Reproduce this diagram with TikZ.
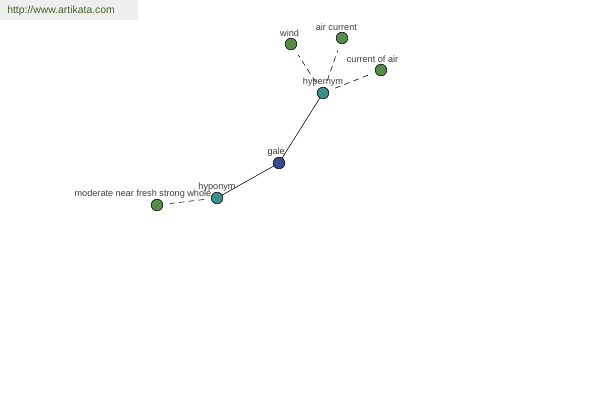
\documentclass[tikz,border=0pt]{standalone}
\usepackage{fontspec}
\setmainfont{Liberation Sans}
\usetikzlibrary{positioning}
\definecolor{Leaf}{RGB}{84, 140, 72}
\definecolor{Relation}{RGB}{62, 140, 140}
\definecolor{Root}{RGB}{60, 72, 140}
\definecolor{Banner}{RGB}{238, 238, 238}
\definecolor{BannerInk}{RGB}{70, 100, 40}
\definecolor{Ink}{RGB}{60, 60, 60}

\begin{document}
\begin{tikzpicture}[x=0.025cm, y=-0.025cm,
    dot/.style={circle, draw=black, line width=0.4pt, minimum size=0.29cm, inner sep=0pt},
    lbl/.style={font=\fontsize{6.5}{7.5}\selectfont, text=Ink, inner sep=0pt},
    solidlink/.style={line width=0.4pt, black},
    dashlink/.style={line width=0.4pt, black, dashed, dash pattern=on 4pt off 3pt, shorten >=5pt, shorten <=5pt},
]
\useasboundingbox (0,0) rectangle (600,400);
\fill[Banner] (0,0) rectangle (138,20);
\node[font=\fontsize{7.4}{8.5}\selectfont, text=BannerInk, anchor=west, inner sep=0pt]
      (site) at (7,11) {http://www.artikata.com};

\node[dot, fill=Root] (gale) at (279,163) {};
\node[dot, fill=Relation] (hyper) at (323,93) {};
\node[dot, fill=Relation] (hypo) at (217,198) {};
\node[dot, fill=Leaf] (wind) at (291,44) {};
\node[dot, fill=Leaf] (aircur) at (342,38) {};
\node[dot, fill=Leaf] (curair) at (381,70) {};
\node[dot, fill=Leaf] (moder) at (157,205) {};

\draw[solidlink] (gale) -- (hyper);
\draw[solidlink] (gale) -- (hypo);
\draw[dashlink] (hyper) -- (wind);
\draw[dashlink] (hyper) -- (aircur);
\draw[dashlink] (hyper) -- (curair);
\draw[dashlink] (hypo) -- (moder);

\node[lbl, above=0.5pt] (galeL) at ([xshift=-2pt]gale.north) {gale};
\node[lbl, above=0.5pt] (hyperL) at (hyper.north) {hypernym};
\node[lbl, above=0.5pt] (hypoL) at (hypo.north) {hyponym};
\node[lbl, above=0.5pt] (windL) at ([xshift=-1pt]wind.north) {wind};
\node[lbl, above=0.5pt] (aircurL) at ([xshift=-4pt]aircur.north) {air current};
\node[lbl, above=0.5pt] (curairL) at ([xshift=-6pt]curair.north) {current of air};
\node[lbl, above=0.5pt] (moderL) at ([xshift=-10pt]moder.north) {moderate near fresh strong whole};
\end{tikzpicture}
\end{document}
